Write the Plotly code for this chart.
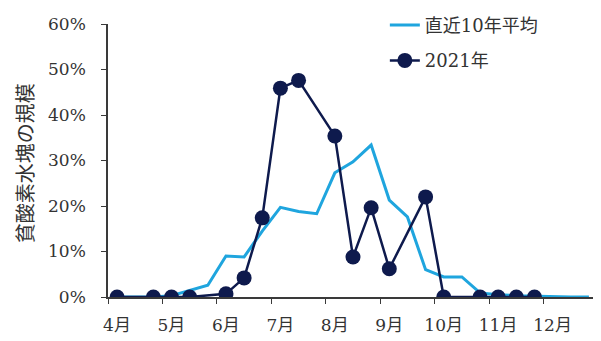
import plotly.graph_objects as go

# dekad index (旬): 0 = 4月上旬 ... 26 = 12月下旬
dekads = list(range(27))
avg_10yr = [0, 0, 0, 0.3, 1.5, 2.6, 9.0, 8.8, 14.5, 19.7, 18.8, 18.3, 27.3, 29.7, 33.4,
            21.3, 17.6, 6.0, 4.4, 4.4, 0.9, 0.5, 0.3, 0.2, 0, 0, 0]
y2021 = [0, None, 0, 0, 0, None, 0.7, 4.2, 17.4, 45.9, 47.6, None, 35.4, 8.8, 19.6,
         6.2, None, 22.0, 0, None, 0, 0, 0, 0, None, None, None]
month_labels = ["4月", "5月", "6月", "7月", "8月", "9月", "10月", "11月", "12月", ""]
month_ticks = [3 * m - 0.5 for m in range(10)]
y_ticks = [0, 10, 20, 30, 40, 50, 60]
y_labels = [f"{v}%" for v in y_ticks]

FONT = "DejaVu Serif, Noto Sans CJK JP"
navy = "#0e1a4d"
light = "#1fa5de"
axc = "#3a3a3a"

fig = go.Figure()
fig.add_trace(go.Scatter(x=dekads, y=avg_10yr, mode="lines", name="直近10年平均",
                         line=dict(color=light, width=3), legendgroup="a"))
fig.add_trace(go.Scatter(x=dekads, y=y2021, mode="lines+markers", name="2021年",
                         connectgaps=True, legendgroup="b",
                         line=dict(color=navy, width=2.5),
                         marker=dict(color=navy, size=15)))

# page body has an 8px margin, so the figure is sized 8px smaller
fig.update_layout(
    width=593, height=333,
    margin=dict(l=100, r=3, t=16, b=44, autoexpand=False),
    paper_bgcolor="white", plot_bgcolor="white",
    font=dict(family=FONT, size=17, color="#333333"),
    showlegend=True,
    legend=dict(x=0.565, y=1.063, xanchor="left", yanchor="top",
                bgcolor="rgba(0,0,0,0)", tracegroupgap=9,
                font=dict(family=FONT, size=18, color="#333333")),
    xaxis=dict(range=[-0.5, 26.5], tickmode="array", tickvals=month_ticks,
               ticktext=month_labels, ticklabelshift=9, ticks="outside", ticklen=5,
               tickcolor=axc, showline=True, linecolor=axc, linewidth=1.5,
               showgrid=False, zeroline=False, ticklabelstandoff=7, automargin=False),
    yaxis=dict(range=[0, 60], tickmode="array", tickvals=y_ticks, ticktext=y_labels,
               ticks="outside", ticklen=5, tickcolor=axc, showline=True, linecolor=axc,
               linewidth=1.5, showgrid=False, zeroline=False, ticklabelstandoff=12,
               automargin=False),
    annotations=[dict(text="貧酸素水塊の規模", x=-0.1714, y=0.49, xref="paper", yref="paper",
                      xanchor="center", yanchor="middle", textangle=-90, showarrow=False,
                      font=dict(family="Noto Sans CJK JP", size=20, color="#333333"))],
)
fig.write_html("out.html")
